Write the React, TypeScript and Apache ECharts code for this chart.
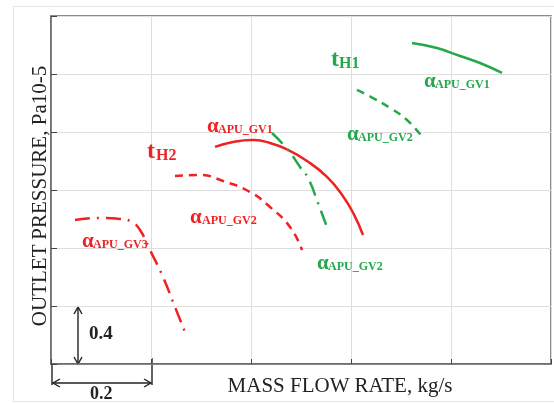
import React, { useEffect, useRef } from "react";
import * as echarts from "echarts";

// x: mass flow rate (kg/s, relative), y: outlet pressure (Pa·10^-5, relative)
const xTicks = [0, 0.2, 0.4, 0.6, 0.8, 1.0];
const yTicks = [0, 0.4, 0.8, 1.2, 1.6, 2.0, 2.4];

const redGV1: [number, number][] = [
  [0.328, 1.497], [0.364, 1.531], [0.402, 1.545], [0.438, 1.524], [0.474, 1.476],
  [0.512, 1.4], [0.552, 1.29], [0.584, 1.157], [0.606, 1.03], [0.624, 0.89],
];
const redGV2: [number, number][] = [
  [0.248, 1.297], [0.298, 1.303], [0.344, 1.262], [0.398, 1.186], [0.438, 1.083],
  [0.478, 0.945], [0.502, 0.786],
];
const redGV3: [number, number][] = [
  [0.048, 0.993], [0.098, 1.007], [0.138, 1.0], [0.162, 0.979], [0.178, 0.924],
  [0.198, 0.786], [0.224, 0.6], [0.248, 0.393], [0.268, 0.221],
];
const greenGV1: [number, number][] = [
  [0.722, 2.214], [0.772, 2.179], [0.818, 2.124], [0.858, 2.076], [0.902, 2.007],
];
const greenGV2: [number, number][] = [
  [0.612, 1.89], [0.644, 1.834], [0.678, 1.766], [0.712, 1.683], [0.744, 1.559],
];
const greenGV2b: [number, number][] = [
  [0.442, 1.593], [0.474, 1.476], [0.498, 1.359], [0.514, 1.283], [0.534, 1.11], [0.554, 0.924],
];

const RED = "#ee2222";
const GREEN = "#25a84b";
const SERIF = "'Liberation Serif', 'DejaVu Serif', serif";

function label(
  x: number, base: number, color: string, big: string, small: string,
  bigSize: number, smallSize: number, bigW: number
) {
  return [
    {
      type: "text", x, y: base, z: 10,
      style: { text: big, fill: color, font: `bold ${bigSize}px ${SERIF}`, verticalAlign: "bottom", align: "left" },
    },
    {
      type: "text", x: x + bigW, y: base, z: 10,
      style: { text: small, fill: color, font: `bold ${smallSize}px ${SERIF}`, verticalAlign: "bottom", align: "left" },
    },
  ];
}

export default function App() {
  const ref = useRef<HTMLDivElement>(null);
  useEffect(() => {
    if (!ref.current) return;
    const chart = echarts.init(ref.current, null, { renderer: "svg" });
    const mk = (data: [number, number][], color: string, type: any) => ({
      type: "line",
      data,
      smooth: 0.5,
      showSymbol: false,
      symbol: "none",
      lineStyle: { color, width: 2.5, type, cap: "butt" },
      silent: true,
    });
    const dash = [8, 6];
    const dashDot = [15, 7, 2, 7];
    const arrow = "#222";
    const lw = 1.4;
    chart.setOption({
      animation: false,
      grid: {
        left: 51, top: 16, right: 3, bottom: 39,
        show: true, borderColor: "#666", borderWidth: 1.5, containLabel: false,
      },
      xAxis: {
        type: "value", min: xTicks[0], max: xTicks[xTicks.length - 1], interval: 0.2,
        axisLabel: { show: false },
        axisLine: { show: true, lineStyle: { color: "#666", width: 1.5 } },
        axisTick: { show: true, inside: true, length: 5, lineStyle: { color: "#444", width: 1 } },
        splitLine: { show: true, lineStyle: { color: "#dedede", width: 1 } },
      },
      yAxis: {
        type: "value", min: yTicks[0], max: yTicks[yTicks.length - 1], interval: 0.4,
        axisLabel: { show: false },
        axisLine: { show: true, lineStyle: { color: "#666", width: 1.5 } },
        axisTick: { show: true, inside: true, length: 6, lineStyle: { color: "#444", width: 1 } },
        splitLine: { show: true, lineStyle: { color: "#dedede", width: 1 } },
      },
      series: [
        mk(redGV1, RED, "solid"),
        mk(redGV2, RED, dash),
        mk(redGV3, RED, dashDot),
        mk(greenGV1, GREEN, "solid"),
        mk(greenGV2, GREEN, dash),
        mk(greenGV2b, GREEN, dashDot),
      ],
      graphic: [
        { type: "rect", shape: { x: 13.5, y: 6.5, width: 560, height: 395 }, style: { fill: "none", stroke: "#e4e4e4", lineWidth: 1 }, silent: true },
        {
          type: "text", x: 340, y: 385,
          style: { text: "MASS FLOW RATE, kg/s", fill: "#222", font: `21px ${SERIF}`, align: "center", verticalAlign: "middle" },
        },
        {
          type: "text", x: 39, y: 196, rotation: Math.PI / 2,
          style: { text: "OUTLET PRESSURE, Pa10-5", fill: "#222", font: `21px ${SERIF}`, align: "center", verticalAlign: "middle" },
        },
        // scale annotations
        { type: "line", shape: { x1: 78, y1: 307, x2: 78, y2: 364 }, style: { stroke: arrow, lineWidth: lw } },
        { type: "polyline", shape: { points: [[74, 314], [78, 307], [82, 314]] }, style: { stroke: arrow, lineWidth: lw, fill: "none" } },
        { type: "polyline", shape: { points: [[74, 357], [78, 364], [82, 357]] }, style: { stroke: arrow, lineWidth: lw, fill: "none" } },
        { type: "line", shape: { x1: 52, y1: 364, x2: 52, y2: 385 }, style: { stroke: arrow, lineWidth: lw } },
        { type: "line", shape: { x1: 152, y1: 358, x2: 152, y2: 385 }, style: { stroke: arrow, lineWidth: lw } },
        { type: "line", shape: { x1: 53, y1: 383, x2: 151, y2: 383 }, style: { stroke: arrow, lineWidth: lw } },
        { type: "polyline", shape: { points: [[60, 379], [53, 383], [60, 387]] }, style: { stroke: arrow, lineWidth: lw, fill: "none" } },
        { type: "polyline", shape: { points: [[144, 379], [151, 383], [144, 387]] }, style: { stroke: arrow, lineWidth: lw, fill: "none" } },
        { type: "text", x: 89, y: 342, style: { text: "0.4", fill: "#222", font: `bold 19px ${SERIF}`, verticalAlign: "bottom" } },
        { type: "text", x: 90, y: 402, style: { text: "0.2", fill: "#222", font: `bold 18px ${SERIF}`, verticalAlign: "bottom" } },
        // curve labels
        ...label(147, 162, RED, "t", "H2", 24, 16, 9),
        ...label(207, 135, RED, "α", "APU_GV1", 21, 12, 11),
        ...label(190, 226, RED, "α", "APU_GV2", 21, 12, 12),
        ...label(82, 250, RED, "α", "APU_GV3", 21, 12, 11),
        ...label(331, 70, GREEN, "t", "H1", 24, 16, 8),
        ...label(424, 90, GREEN, "α", "APU_GV1", 21, 12, 11),
        ...label(347, 143, GREEN, "α", "APU_GV2", 21, 12, 11),
        ...label(317, 272, GREEN, "α", "APU_GV2", 21, 12, 11),
      ],
    });
    return () => chart.dispose();
  }, []);
  return <div ref={ref} style={{ position: "fixed", left: 0, top: 0, width: 554, height: 403 }} />;
}
